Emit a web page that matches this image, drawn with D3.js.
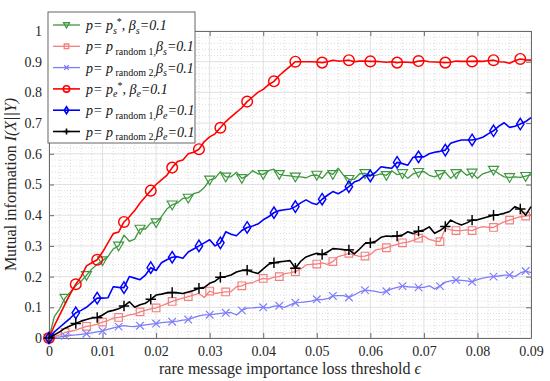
<!DOCTYPE html>
<html>
<head>
<meta charset="utf-8">
<script src="https://cdn.jsdelivr.net/npm/d3@7"></script>
<style>
  body { margin: 0; background: #fff; }
</style>
</head>
<body>
<div id="chart"></div>
<script>
const FONT = '"Liberation Serif", "DejaVu Serif", serif';

// threshold epsilon, sampled every 0.001 from 0 to 0.09
const epsStep = 0.001;
const epsCount = 91;

const xTicks = [0, 0.01, 0.02, 0.03, 0.04, 0.05, 0.06, 0.07, 0.08, 0.09];
const yTicks = [0, 0.1, 0.2, 0.3, 0.4, 0.5, 0.6, 0.7, 0.8, 0.9, 1];

// p = p_s*, beta_s = 0.1
const psStar = [0, 0.07, 0.095, 0.13, 0.15, 0.17, 0.185, 0.204, 0.225, 0.24,
  0.252, 0.265, 0.29, 0.3, 0.335, 0.315, 0.322, 0.355, 0.355, 0.375,
  0.376, 0.395, 0.42, 0.434, 0.44, 0.455, 0.456, 0.47, 0.475, 0.49,
  0.515, 0.52, 0.542, 0.525, 0.525, 0.54, 0.52, 0.528, 0.545, 0.535,
  0.533, 0.545, 0.55, 0.533, 0.53, 0.528, 0.525, 0.525, 0.522, 0.53,
  0.531, 0.52, 0.54, 0.533, 0.553, 0.53, 0.517, 0.517, 0.535, 0.536,
  0.531, 0.53, 0.535, 0.53, 0.545, 0.532, 0.536, 0.52, 0.535, 0.54,
  0.542, 0.53, 0.525, 0.533, 0.54, 0.52, 0.536, 0.545, 0.53, 0.538,
  0.52, 0.535, 0.54, 0.547, 0.535, 0.525, 0.523, 0.525, 0.523, 0.527, 0.531];

// p = p_random1, beta_s = 0.1
const rand1S = [0, 0.005, 0.01, 0.018, 0.022, 0.026, 0.032, 0.038, 0.04, 0.045,
  0.052, 0.057, 0.065, 0.067, 0.07, 0.075, 0.078, 0.085, 0.09, 0.095,
  0.098, 0.105, 0.112, 0.119, 0.125, 0.13, 0.135, 0.14, 0.145, 0.132,
  0.153, 0.145, 0.148, 0.15, 0.151, 0.167, 0.17, 0.178, 0.18, 0.188,
  0.194, 0.192, 0.198, 0.2, 0.21, 0.212, 0.216, 0.225, 0.238, 0.24,
  0.241, 0.245, 0.24, 0.249, 0.265, 0.27, 0.276, 0.27, 0.266, 0.267,
  0.272, 0.287, 0.29, 0.294, 0.3, 0.305, 0.31, 0.312, 0.318, 0.325,
  0.332, 0.321, 0.316, 0.314, 0.357, 0.352, 0.35, 0.35, 0.352, 0.35,
  0.358, 0.363, 0.36, 0.36, 0.37, 0.378, 0.384, 0.39, 0.395, 0.397, 0.403];

// p = p_random2, beta_s = 0.1
const rand2S = [0, 0.002, 0.004, 0.007, 0.009, 0.01, 0.012, 0.014, 0.017, 0.02,
  0.023, 0.028, 0.033, 0.037, 0.04, 0.038, 0.037, 0.04, 0.043, 0.045,
  0.047, 0.05, 0.052, 0.053, 0.055, 0.058, 0.06, 0.066, 0.072, 0.075,
  0.076, 0.078, 0.08, 0.082, 0.083, 0.075, 0.09, 0.097, 0.098, 0.1,
  0.1, 0.098, 0.104, 0.105, 0.1, 0.108, 0.115, 0.116, 0.118, 0.12,
  0.126, 0.125, 0.128, 0.137, 0.138, 0.138, 0.132, 0.14, 0.15, 0.156,
  0.154, 0.152, 0.148, 0.152, 0.16, 0.165, 0.169, 0.167, 0.166, 0.165,
  0.165, 0.17, 0.16, 0.169, 0.182, 0.186, 0.189, 0.188, 0.186, 0.183,
  0.19, 0.195, 0.198, 0.2, 0.202, 0.205, 0.205, 0.2, 0.212, 0.218, 0.213];

// p = p_e*, beta_e = 0.1
const peStar = [0, 0.04, 0.075, 0.11, 0.145, 0.175, 0.2, 0.235, 0.245, 0.255,
  0.28, 0.31, 0.34, 0.345, 0.378, 0.395, 0.415, 0.44, 0.46, 0.48,
  0.5, 0.515, 0.53, 0.555, 0.575, 0.58, 0.6, 0.605, 0.615, 0.64,
  0.655, 0.665, 0.685, 0.705, 0.72, 0.735, 0.75, 0.77, 0.785, 0.8,
  0.81, 0.825, 0.836, 0.855, 0.87, 0.885, 0.9, 0.9, 0.9, 0.9,
  0.899, 0.897, 0.9, 0.905, 0.902, 0.903, 0.905, 0.9, 0.902, 0.902,
  0.901, 0.901, 0.9, 0.898, 0.9, 0.897, 0.899, 0.898, 0.897, 0.902,
  0.903, 0.9, 0.899, 0.898, 0.897, 0.898, 0.902, 0.901, 0.901, 0.901,
  0.902, 0.901, 0.903, 0.905, 0.9, 0.899, 0.895, 0.903, 0.909, 0.906, 0.905];

// p = p_random1, beta_e = 0.1
const rand1E = [0, 0.02, 0.035, 0.05, 0.065, 0.082, 0.09, 0.1, 0.115, 0.13,
  0.13, 0.131, 0.167, 0.165, 0.164, 0.2, 0.195, 0.19, 0.205, 0.229,
  0.22, 0.245, 0.255, 0.263, 0.265, 0.26, 0.28, 0.29, 0.3, 0.31,
  0.32, 0.3, 0.31, 0.346, 0.338, 0.333, 0.35, 0.36, 0.365, 0.371,
  0.385, 0.395, 0.408, 0.415, 0.418, 0.42, 0.428, 0.44, 0.45, 0.44,
  0.435, 0.452, 0.465, 0.477, 0.47, 0.48, 0.493, 0.508, 0.515, 0.53,
  0.528, 0.54, 0.558, 0.555, 0.553, 0.572, 0.568, 0.563, 0.589, 0.59,
  0.59, 0.6, 0.605, 0.608, 0.612, 0.634, 0.64, 0.645, 0.645, 0.645,
  0.648, 0.654, 0.665, 0.675, 0.69, 0.701, 0.686, 0.69, 0.697, 0.705, 0.718];

// p = p_random2, beta_e = 0.1
const rand2E = [0, 0.01, 0.02, 0.032, 0.04, 0.047, 0.055, 0.06, 0.065, 0.067,
  0.075, 0.086, 0.09, 0.095, 0.104, 0.118, 0.1, 0.108, 0.113, 0.126,
  0.14, 0.143, 0.147, 0.148, 0.147, 0.145, 0.15, 0.155, 0.162, 0.165,
  0.178, 0.185, 0.198, 0.2, 0.205, 0.215, 0.22, 0.221, 0.215, 0.21,
  0.225, 0.24, 0.245, 0.248, 0.25, 0.252, 0.227, 0.25, 0.264, 0.27,
  0.276, 0.272, 0.28, 0.291, 0.29, 0.288, 0.287, 0.274, 0.29, 0.308,
  0.31, 0.315, 0.328, 0.332, 0.331, 0.332, 0.335, 0.346, 0.34, 0.348,
  0.352, 0.362, 0.341, 0.35, 0.363, 0.384, 0.375, 0.368, 0.375, 0.384,
  0.385, 0.39, 0.395, 0.4, 0.402, 0.406, 0.412, 0.428, 0.42, 0.4, 0.428];

const series = [
  { values: psStar, color: "#3f973f", width: 1.3, marker: "triDown", every: 3.3,
    label: [["p= p", "i"], ["s", "i", "sub"], ["*", "n", "sup"], [",  β", "i"], ["s", "i", "sub"], ["=0.1", "i"]] },
  { values: rand1S, color: "#f47f7f", width: 1.3, marker: "square", every: 3.3,
    label: [["p= p", "i"], [" random 1", "n", "sub"], [",", "n", "sub"], ["β", "i"], ["s", "i", "sub"], ["=0.1", "i"]] },
  { values: rand2S, color: "#7d7dfa", width: 1.3, marker: "times", every: 3.3,
    label: [["p= p", "i"], [" random 2", "n", "sub"], [",", "n", "sub"], ["β", "i"], ["s", "i", "sub"], ["=0.1", "i"]] },
  { values: peStar, color: "#ff0000", width: 1.6, marker: "circle", every: 4.63,
    label: [["p= p", "i"], ["e", "i", "sub"], ["*", "n", "sup"], [",  β", "i"], ["e", "i", "sub"], ["=0.1", "i"]] },
  { values: rand1E, color: "#0000ff", width: 1.6, marker: "diamond", every: 4.63,
    label: [["p= p", "i"], [" random 1", "n", "sub"], [",", "n", "sub"], ["β", "i"], ["e", "i", "sub"], ["=0.1", "i"]] },
  { values: rand2E, color: "#000000", width: 1.6, marker: "plus", every: 4.63,
    label: [["p= p", "i"], [" random 2", "n", "sub"], [",", "n", "sub"], ["β", "i"], ["e", "i", "sub"], ["=0.1", "i"]] }
];

const width = 550, height = 381;
const margin = { top: 31, right: 19, bottom: 43, left: 49 };
const innerW = width - margin.left - margin.right;
const innerH = height - margin.top - margin.bottom;

const svg = d3.select("#chart").append("svg")
  .attr("width", width)
  .attr("height", height)
  .style("font-family", FONT);

const g = svg.append("g")
  .attr("transform", `translate(${margin.left},${margin.top})`);

const x = d3.scaleLinear().domain([0, 0.09]).range([0, innerW]);
const y = d3.scaleLinear().domain([0, 1]).range([innerH, 0]);

// minor grid (dotted)
const xMinor = d3.range(0, 0.0901, 0.002).filter(v => Math.abs(v * 100 - Math.round(v * 100)) > 1e-6);
const yMinor = d3.range(0, 1.001, 0.02).filter(v => Math.abs(v * 10 - Math.round(v * 10)) > 1e-6);

g.append("g").selectAll("line").data(xMinor).join("line")
  .attr("x1", d => x(d)).attr("x2", d => x(d))
  .attr("y1", 0).attr("y2", innerH)
  .attr("stroke", "#cfcfcf").attr("stroke-width", 0.7)
  .attr("stroke-dasharray", "1,2");
g.append("g").selectAll("line").data(yMinor).join("line")
  .attr("x1", 0).attr("x2", innerW)
  .attr("y1", d => y(d)).attr("y2", d => y(d))
  .attr("stroke", "#cfcfcf").attr("stroke-width", 0.7)
  .attr("stroke-dasharray", "1,2");

// major grid
g.append("g").selectAll("line").data(xTicks).join("line")
  .attr("x1", d => x(d)).attr("x2", d => x(d))
  .attr("y1", 0).attr("y2", innerH)
  .attr("stroke", "#dedede").attr("stroke-width", 0.9);
g.append("g").selectAll("line").data(yTicks).join("line")
  .attr("x1", 0).attr("x2", innerW)
  .attr("y1", d => y(d)).attr("y2", d => y(d))
  .attr("stroke", "#dedede").attr("stroke-width", 0.9);

const fmt = d => String(+d.toFixed(3));

// axes, ticks pointing inward like matlab
const axisColor = "#6b6b6b";
function styleAxis(sel) {
  sel.attr("font-family", null);
  sel.select(".domain").attr("stroke", axisColor);
  sel.selectAll(".tick line").attr("stroke", axisColor);
  sel.selectAll(".tick text").attr("fill", "#262626").style("font-size", "14px");
}

g.append("g")
  .attr("transform", `translate(0,${innerH})`)
  .call(d3.axisBottom(x).tickValues(xTicks).tickFormat(fmt).tickSizeInner(-5).tickSizeOuter(0).tickPadding(8))
  .call(styleAxis);
g.append("g")
  .call(d3.axisLeft(y).tickValues(yTicks).tickFormat(fmt).tickSizeInner(-5).tickSizeOuter(0).tickPadding(7))
  .call(styleAxis);
g.append("g")
  .call(d3.axisTop(x).tickValues(xTicks).tickFormat("").tickSizeInner(-5).tickSizeOuter(0))
  .call(styleAxis);
g.append("g")
  .attr("transform", `translate(${innerW},0)`)
  .call(d3.axisRight(y).tickValues(yTicks).tickFormat("").tickSizeInner(-5).tickSizeOuter(0))
  .call(styleAxis);

// marker shapes
function markerPath(type, s) {
  switch (type) {
    case "circle":
      return `M${s},0A${s},${s} 0 1,1 ${-s},0A${s},${s} 0 1,1 ${s},0Z`;
    case "square":
      return `M${-s},${-s}H${s}V${s}H${-s}Z`;
    case "diamond":
      return `M0,${-s * 1.25}L${s * 0.8},0L0,${s * 1.25}L${-s * 0.8},0Z`;
    case "triDown":
      return `M${-s},${-s * 0.75}H${s}L0,${s * 1.0}Z`;
    case "times":
      return `M${-s},${-s}L${s},${s}M${-s},${s}L${s},${-s}`;
    case "plus":
      return `M${-s},0H${s}M0,${-s}V${s}`;
  }
}
const markerSize = { circle: 5.3, square: 3.8, diamond: 4.6, triDown: 5, times: 3.8, plus: 5.2 };

const line = d3.line()
  .x((d, i) => x(i * epsStep))
  .y(d => y(d));

const plot = g.append("g");
series.forEach(s => {
  plot.append("path")
    .datum(s.values)
    .attr("d", line)
    .attr("fill", "none")
    .attr("stroke", s.color)
    .attr("stroke-width", s.width)
    .attr("stroke-linejoin", "round");

  const idx = d3.range(0, epsCount / s.every).map(k => Math.round(k * s.every)).filter(i => i < epsCount);
  plot.append("g").selectAll("path").data(idx).join("path")
    .attr("transform", i => `translate(${x(i * epsStep)},${y(s.values[i])})`)
    .attr("d", markerPath(s.marker, markerSize[s.marker]))
    .attr("fill", "none")
    .attr("stroke", s.color)
    .attr("stroke-width", s.width * 0.9);
});

// axis labels
svg.append("text")
  .attr("x", margin.left + innerW / 2)
  .attr("y", 374)
  .attr("text-anchor", "middle")
  .style("font-size", "16px")
  .attr("fill", "#262626")
  .call(t => {
    t.append("tspan").text("rare message importance loss threshold ");
    t.append("tspan").style("font-style", "italic").text("ϵ");
  });

svg.append("text")
  .attr("transform", `translate(16,${margin.top + innerH / 2}) rotate(-90)`)
  .attr("text-anchor", "middle")
  .style("font-size", "16px")
  .attr("fill", "#262626")
  .call(t => {
    t.append("tspan").text("Mutual information ");
    t.append("tspan").style("font-style", "italic").text("I(X||Y)");
  });

// legend
const legend = svg.append("g").attr("transform", "translate(48,12)");
legend.append("rect")
  .attr("width", 147).attr("height", 131)
  .attr("fill", "#fff")
  .attr("stroke", "#555").attr("stroke-width", 0.9);

series.forEach((s, r) => {
  const row = legend.append("g").attr("transform", `translate(0,${13 + r * 21.3})`);
  row.append("line")
    .attr("x1", 5).attr("x2", 32).attr("y1", 0).attr("y2", 0)
    .attr("stroke", s.color).attr("stroke-width", s.width);
  row.append("path")
    .attr("transform", "translate(18.5,0)")
    .attr("d", markerPath(s.marker, markerSize[s.marker] * 0.6))
    .attr("fill", "none").attr("stroke", s.color).attr("stroke-width", s.width);

  const txt = row.append("text")
    .attr("x", 38).attr("y", 5)
    .attr("fill", "#111")
    .style("font-size", "14px");
  let level = 0; // current vertical offset
  s.label.forEach(([str, st, pos]) => {
    const ts = txt.append("tspan").text(str)
      .style("font-style", st === "i" ? "italic" : "normal");
    let target = 0;
    if (pos === "sub") { target = 3.5; ts.style("font-size", "10px"); }
    if (pos === "sup") { target = -5; ts.style("font-size", "10px"); }
    if (target !== level) ts.attr("dy", target - level);
    level = target;
  });
});

svg.selectAll("text").style("font-family", FONT);
</script>
</body>
</html>
